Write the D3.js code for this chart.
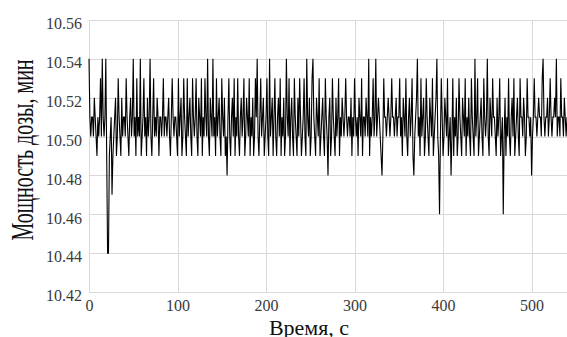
<!doctype html>
<html lang="ru">
<head>
<meta charset="utf-8">
<title>Мощность дозы</title>
<script src="https://cdn.jsdelivr.net/npm/d3@7"></script>
<style>
  body { margin: 0; background: #fff; }
  svg text { font-family: "Liberation Serif", "Times New Roman", Tinos, "DejaVu Serif", "Noto Serif", serif !important; }
</style>
</head>
<body>
<div id="chart"></div>
<script>
// dose rate readings, one per second starting at t = 0
const dose = [
  10.54,10.51,10.50,10.51,10.51,10.50,10.52,10.51,10.50,10.49,10.51,10.50,10.51,10.53,10.50,10.54,10.51,10.50,10.51,10.54,
  10.49,10.44,10.44,10.49,10.50,10.51,10.47,10.49,10.50,10.51,10.52,10.49,10.50,10.53,10.51,10.50,10.49,10.52,10.50,10.51,
  10.51,10.50,10.53,10.51,10.50,10.49,10.51,10.52,10.50,10.51,10.54,10.50,10.51,10.49,10.53,10.50,10.51,10.50,10.54,10.49,
  10.50,10.51,10.53,10.50,10.51,10.49,10.52,10.50,10.51,10.54,10.50,10.49,10.51,10.53,10.50,10.51,10.50,10.52,10.51,10.49,
  10.51,10.51,10.50,10.51,10.53,10.50,10.51,10.51,10.50,10.51,10.52,10.50,10.49,10.51,10.53,10.51,10.50,10.51,10.51,10.50,
  10.49,10.53,10.50,10.51,10.52,10.49,10.50,10.53,10.51,10.50,10.49,10.53,10.50,10.51,10.52,10.50,10.49,10.53,10.51,10.50,
  10.51,10.53,10.50,10.49,10.52,10.51,10.50,10.53,10.49,10.51,10.50,10.53,10.51,10.50,10.54,10.50,10.49,10.52,10.51,10.50,
  10.54,10.50,10.51,10.49,10.53,10.50,10.51,10.52,10.50,10.49,10.53,10.51,10.50,10.52,10.49,10.50,10.48,10.51,10.53,10.50,
  10.49,10.51,10.52,10.50,10.53,10.49,10.51,10.50,10.53,10.50,10.49,10.51,10.52,10.50,10.51,10.53,10.49,10.50,10.52,10.51,
  10.50,10.53,10.49,10.51,10.50,10.52,10.49,10.50,10.53,10.51,10.54,10.50,10.49,10.51,10.53,10.50,10.51,10.52,10.49,10.50,
  10.51,10.53,10.50,10.49,10.54,10.50,10.51,10.52,10.49,10.51,10.53,10.50,10.49,10.51,10.52,10.50,10.53,10.49,10.51,10.50,
  10.52,10.49,10.50,10.54,10.51,10.50,10.53,10.49,10.51,10.52,10.50,10.49,10.53,10.51,10.50,10.49,10.52,10.50,10.53,10.51,
  10.49,10.50,10.51,10.53,10.50,10.49,10.54,10.51,10.50,10.52,10.49,10.50,10.53,10.54,10.51,10.50,10.49,10.52,10.51,10.50,
  10.53,10.49,10.50,10.51,10.52,10.50,10.49,10.53,10.51,10.50,10.48,10.51,10.52,10.49,10.50,10.53,10.51,10.50,10.49,10.52,
  10.50,10.51,10.53,10.49,10.51,10.50,10.52,10.51,10.50,10.51,10.53,10.51,10.50,10.51,10.51,10.50,10.52,10.49,10.51,10.50,
  10.53,10.51,10.50,10.51,10.49,10.52,10.51,10.50,10.53,10.49,10.51,10.51,10.50,10.52,10.51,10.50,10.54,10.49,10.51,10.50,
  10.51,10.53,10.50,10.51,10.54,10.50,10.51,10.52,10.51,10.50,10.49,10.48,10.50,10.53,10.51,10.51,10.50,10.51,10.52,10.51,
  10.50,10.51,10.53,10.51,10.51,10.50,10.51,10.52,10.50,10.51,10.51,10.53,10.50,10.51,10.49,10.52,10.51,10.50,10.53,10.50,
  10.49,10.51,10.52,10.50,10.51,10.53,10.49,10.48,10.50,10.51,10.52,10.54,10.50,10.51,10.49,10.53,10.50,10.51,10.52,10.49,
  10.50,10.53,10.51,10.50,10.49,10.52,10.51,10.50,10.53,10.49,10.50,10.51,10.52,10.54,10.50,10.49,10.46,10.50,10.53,10.51,
  10.49,10.50,10.52,10.51,10.50,10.53,10.49,10.50,10.51,10.48,10.50,10.53,10.49,10.51,10.50,10.52,10.49,10.50,10.53,10.51,
  10.50,10.49,10.52,10.51,10.50,10.53,10.49,10.51,10.50,10.52,10.50,10.49,10.53,10.51,10.50,10.49,10.54,10.50,10.51,10.53,
  10.49,10.50,10.51,10.52,10.50,10.49,10.53,10.51,10.50,10.51,10.54,10.50,10.49,10.52,10.51,10.50,10.53,10.51,10.51,10.50,
  10.49,10.52,10.50,10.51,10.53,10.49,10.50,10.51,10.46,10.50,10.52,10.49,10.51,10.50,10.53,10.50,10.49,10.51,10.52,10.50,
  10.53,10.49,10.50,10.51,10.52,10.50,10.49,10.53,10.51,10.51,10.50,10.52,10.51,10.49,10.50,10.53,10.51,10.51,10.50,10.51,
  10.48,10.50,10.51,10.53,10.51,10.51,10.50,10.51,10.52,10.51,10.51,10.50,10.53,10.54,10.51,10.50,10.51,10.51,10.52,10.50,
  10.51,10.53,10.51,10.50,10.51,10.51,10.52,10.51,10.54,10.50,10.51,10.51,10.50,10.53,10.51,10.51,10.50,10.52,10.51,10.50,
  10.51
];

const xTicks = [0, 100, 200, 300, 400, 500];
const yTicks = [10.42, 10.44, 10.46, 10.48, 10.50, 10.52, 10.54, 10.56];
const xTitle = 'Время, с';
const yTitle = 'Мощность дозы, мин';

const width = 567, height = 337;
const margin = {top: 20, right: 0, bottom: 45, left: 89};

const svg = d3.select('#chart').append('svg')
    .attr('width', width)
    .attr('height', height);

const x = d3.scaleLinear()
    .domain([0, 540])
    .range([margin.left, width - margin.right]);

const y = d3.scaleLinear()
    .domain([10.42, 10.56])
    .range([height - margin.bottom, margin.top]);

// grid
svg.append('g')
    .selectAll('line')
    .data(yTicks)
    .join('line')
    .attr('x1', margin.left)
    .attr('x2', width - margin.right)
    .attr('y1', d => Math.round(y(d)) + 0.5)
    .attr('y2', d => Math.round(y(d)) + 0.5)
    .style('stroke', '#d9d9d9');

svg.append('g')
    .selectAll('line')
    .data(xTicks)
    .join('line')
    .attr('x1', d => Math.round(x(d)) + 0.5)
    .attr('x2', d => Math.round(x(d)) + 0.5)
    .attr('y1', margin.top)
    .attr('y2', height - margin.bottom)
    .style('stroke', '#d9d9d9');

// axes (labels only, lines come from the grid)
const yAxis = svg.append('g')
    .attr('transform', 'translate(' + margin.left + ',0)')
    .call(d3.axisLeft(y).tickValues(yTicks).tickFormat(d3.format('.2f')).tickSize(0).tickPadding(7));

const xAxis = svg.append('g')
    .attr('transform', 'translate(0,' + (height - margin.bottom) + ')')
    .call(d3.axisBottom(x).tickValues(xTicks).tickSize(0).tickPadding(8));

[xAxis, yAxis].forEach(g => {
    g.attr('font-family', null).attr('font-size', null);
    g.select('.domain').remove();
    g.selectAll('text')
        .style('font-size', '16px')
        .style('fill', '#3a3a3a');
});
yAxis.selectAll('text').attr('dy', '0.55em');

// the series
const line = d3.line()
    .x((d, i) => x(i))
    .y(d => y(d));

svg.append('path')
    .datum(dose)
    .attr('d', line)
    .style('fill', 'none')
    .style('stroke', '#000')
    .style('stroke-width', 1.1);

// titles
svg.append('text')
    .attr('x', 309)
    .attr('y', 335)
    .attr('text-anchor', 'middle')
    .style('font-size', '22px')
    .style('fill', '#111')
    .text(xTitle);

svg.append('text')
    .attr('transform', 'translate(33,150) rotate(-90) scale(1,1.6)')
    .attr('text-anchor', 'middle')
    .style('font-size', '20px')
    .style('fill', '#111')
    .text(yTitle);
</script>
</body>
</html>
